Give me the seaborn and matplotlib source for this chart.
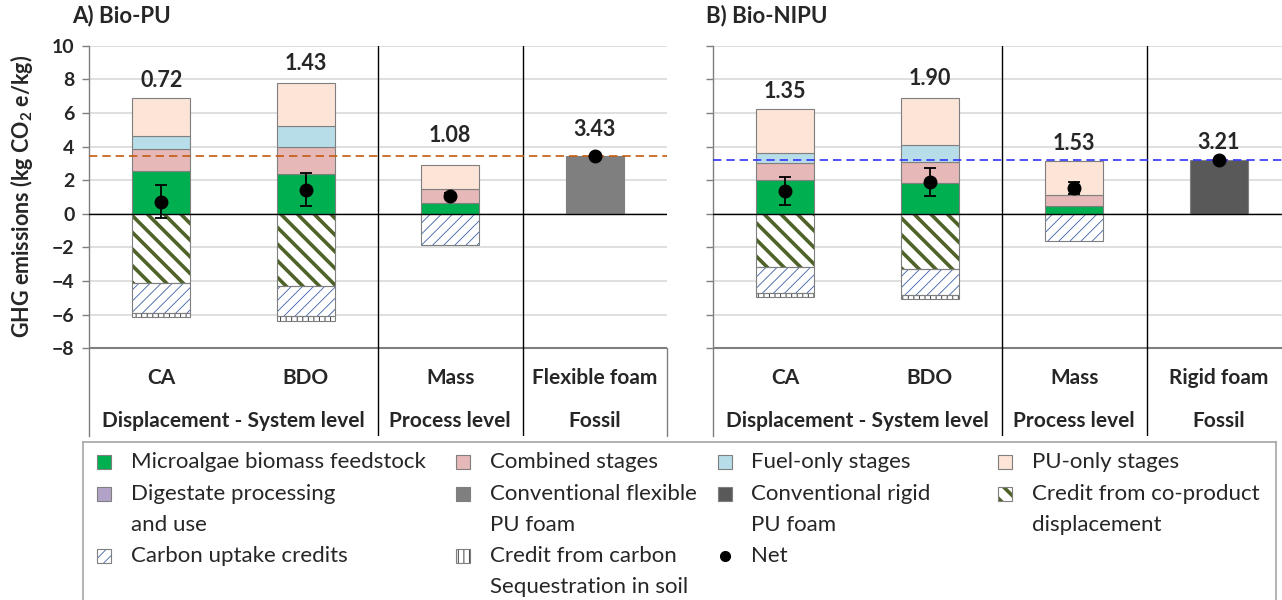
import numpy as np
import pandas as pd
import matplotlib
matplotlib.use("Agg")
import matplotlib.pyplot as plt
from matplotlib.patches import Rectangle
import seaborn as sns

# --- data (kg CO2 e/kg) ---
cats_a = ["CA", "BDO", "Mass", "Flexible foam"]
cats_b = ["CA", "BDO", "Mass", "Rigid foam"]
groups = ["Displacement - System level", "Process level", "Fossil"]

# A) Bio-PU
feedstock_a = [2.54, 2.36, 0.62, 0.0]
combined_a = [1.29, 1.59, 0.83, 0.0]
fuel_a = [0.80, 1.27, 0.0, 0.0]
pu_a = [2.24, 2.54, 1.47, 0.0]
fossil_a = [0.0, 0.0, 0.0, 3.43]
coprod_a = [-4.14, -4.30, 0.0, 0.0]
uptake_a = [-1.79, -1.79, -1.84, 0.0]
soil_a = [-0.24, -0.28, 0.0, 0.0]
net_a = [0.72, 1.43, 1.08, 3.43]
err_a = [1.00, 1.00, 0.15, 0.0]

# B) Bio-NIPU
feedstock_b = [1.99, 1.85, 0.48, 0.0]
combined_b = [1.03, 1.25, 0.65, 0.0]
fuel_b = [0.57, 1.01, 0.0, 0.0]
pu_b = [2.62, 2.78, 2.01, 0.0]
fossil_b = [0.0, 0.0, 0.0, 3.21]
coprod_b = [-3.19, -3.31, 0.0, 0.0]
uptake_b = [-1.51, -1.53, -1.63, 0.0]
soil_b = [-0.24, -0.22, 0.0, 0.0]
net_b = [1.35, 1.90, 1.53, 3.21]
err_b = [0.85, 0.85, 0.35, 0.0]

# --- style ---
sns.set_theme(style="white")
plt.rcParams["font.family"] = ["Lato", "DejaVu Sans"]
plt.rcParams["mathtext.default"] = "regular"

C_FEED = "#00B050"
C_COMB = "#E6B8B7"
C_FUEL = "#B7DEE8"
C_PU = "#FCE4D6"
C_DIG = "#B3A2C7"
C_FLEX = "#7F7F7F"
C_RIGID = "#595959"
C_COPROD = "#4F6228"
C_UPTAKE = "#3A5FA8"
C_SOIL = "#404040"
EDGE = "#7F7F7F"
AXIS = "#7F7F7F"

W, H = 1282, 600
fig = plt.figure(figsize=(W / 100, H / 100), dpi=100)


def px_axes(x0, y0, x1, y1):
    return fig.add_axes([x0 / W, 1 - y1 / H, (x1 - x0) / W, (y1 - y0) / H])


Y_TOP, Y_BOT, PX_UNIT = 45.7, 436, 16.8
YMIN = 10 - (Y_BOT - Y_TOP) / PX_UNIT
CAT_W = 144.5


def stack_bar(ax, cats, values, bottoms, color, hatch=None, hatch_lw=1.0):
    keep = [i for i, v in enumerate(values) if v != 0]
    sub = pd.DataFrame({"cat": [cats[i] for i in keep], "val": [values[i] for i in keep]})
    bot = np.array([bottoms[i] for i in keep])
    common = dict(data=sub, x="cat", y="val", order=cats, bottom=bot, saturation=1,
                  width=0.4, errorbar=None, ax=ax)
    if hatch is None:
        sns.barplot(color=color, edgecolor=EDGE, linewidth=0.8, zorder=2, **common)
        return
    n0 = len(ax.patches)
    with plt.rc_context({"hatch.linewidth": hatch_lw}):
        sns.barplot(color="white", edgecolor=color, linewidth=0, hatch=hatch, zorder=2, **common)
    for p in ax.patches[n0:]:
        if hasattr(p, "set_hatch_linewidth"):
            p.set_hatch_linewidth(hatch_lw)
    sns.barplot(color="white", facecolor="none", edgecolor=EDGE, linewidth=0.8, zorder=2.1, **common)


def panel(ax, cats, feed, comb, fuel, pu, fossil, coprod, uptake, soil, net, err,
          fossil_color, ref_color, label_y, xmax, show_labels):
    feed, comb, fuel, pu = map(np.array, (feed, comb, fuel, pu))
    coprod, uptake = np.array(coprod), np.array(uptake)
    zero = np.zeros(len(cats))
    stack_bar(ax, cats, feed, zero, C_FEED)
    stack_bar(ax, cats, comb, feed, C_COMB)
    stack_bar(ax, cats, fuel, feed + comb, C_FUEL)
    stack_bar(ax, cats, pu, feed + comb + fuel, C_PU)
    stack_bar(ax, cats, fossil, zero, fossil_color)
    stack_bar(ax, cats, coprod, zero, C_COPROD, hatch="\\\\", hatch_lw=2.6)
    stack_bar(ax, cats, uptake, coprod, C_UPTAKE, hatch="///", hatch_lw=0.6)
    stack_bar(ax, cats, soil, coprod + uptake, C_SOIL, hatch="|||", hatch_lw=0.7)

    idx = np.arange(len(cats))
    has_err = [i for i, e in enumerate(err) if e > 0]
    ax.errorbar(idx[has_err], np.array(net)[has_err], yerr=np.array(err)[has_err], fmt="none",
                ecolor="black", elinewidth=1.3, capsize=4.5, capthick=1.3, zorder=5)
    sns.pointplot(x=cats, y=net, order=cats, linestyle="none", markers="o", color="black",
                  markersize=8, errorbar=None, zorder=6, ax=ax)

    for i, (v, yl) in enumerate(zip(net, label_y)):
        ax.text(i, yl, f"{v:.2f}", ha="center", va="center", fontsize=15.5, fontweight="bold")

    ax.axhline(net[-1], color=ref_color, ls=(0, (5, 3)), lw=1.2, zorder=3.5)
    ax.axhline(0, color="black", lw=1, zorder=3)
    ax.axhline(-8, color=AXIS, lw=1.5, zorder=3)
    for xs in (1.5, 2.5):
        ax.axvline(xs, color="black", lw=1, zorder=3)

    ax.set_xlim(-0.5, xmax)
    ax.set_ylim(YMIN, 10)
    ax.set_yticks(range(-8, 11, 2))
    ax.set_xticks([])
    ax.set_xlabel("")
    ax.set_ylabel("")
    ax.grid(axis="y", color="#D9D9D9", lw=1.2)
    ax.grid(axis="x", visible=False)
    ax.set_axisbelow(True)
    for s in ("top", "right", "bottom"):
        ax.spines[s].set_visible(False)
    ax.spines["left"].set_color(AXIS)
    ax.spines["left"].set_linewidth(1)
    ax.tick_params(axis="y", left=True, direction="out", length=5, width=1, color=AXIS,
                   pad=5.5, labelleft=show_labels, labelsize=14)
    for t in ax.get_yticklabels():
        t.set_fontweight("bold")

    for i, c in enumerate(cats):
        ax.text(i, -9.8, c, ha="center", va="center", fontsize=15, fontweight="bold")
    for xc, g in zip((0.5, 2, 3), groups):
        ax.text(xc, -12.35, g, ha="center", va="center", fontsize=15, fontweight="bold")


ax_a = px_axes(89, Y_TOP, 89 + 4 * CAT_W, Y_BOT)
panel(ax_a, cats_a, feedstock_a, combined_a, fuel_a, pu_a, fossil_a, coprod_a, uptake_a, soil_a,
      net_a, err_a, C_FLEX, "#C55A11", [7.95, 8.95, 4.63, 5.04], 3.5, True)
ax_a.plot([3.5, 3.5], [YMIN, -8], color=AXIS, lw=1, clip_on=False)

ax_b = px_axes(713, Y_TOP, W, Y_BOT)
panel(ax_b, cats_b, feedstock_b, combined_b, fuel_b, pu_b, fossil_b, coprod_b, uptake_b, soil_b,
      net_b, err_b, C_RIGID, "#3333FF", [7.26, 8.06, 4.19, 4.23], -0.5 + (W - 713) / CAT_W, False)

fig.text(72 / W, 1 - 16 / H, "A) Bio-PU", ha="left", va="center", fontsize=16, fontweight="bold")
fig.text(706 / W, 1 - 16 / H, "B) Bio-NIPU", ha="left", va="center", fontsize=16, fontweight="bold")
fig.text(22 / W, 1 - 196 / H, "GHG emissions (kg CO$_2$ e/kg)", rotation=90, ha="center",
         va="center", fontsize=15.5, fontweight="bold")

# --- legend (drawn in pixel coordinates) ---
lax = px_axes(82.7, 441.7, 1276, 603)
lax.set_xlim(82.7, 1276)
lax.set_ylim(603, 441.7)
lax.set_xticks([])
lax.set_yticks([])
for s in lax.spines.values():
    s.set_color("#A6A6A6")
    s.set_linewidth(1.2)

cols = [(103.7, 130.7), (463, 490), (725, 751), (1005, 1032)]
rows = [462, 494, 556]
entries = [
    (0, 0, "Microalgae biomass feedstock", dict(fc=C_FEED)),
    (0, 1, "Digestate processing\nand use", dict(fc=C_DIG)),
    (0, 2, "Carbon uptake credits", dict(fc="white", hatch="///", hc=C_UPTAKE, hlw=0.6)),
    (1, 0, "Combined stages", dict(fc=C_COMB)),
    (1, 1, "Conventional flexible\nPU foam", dict(fc=C_FLEX)),
    (1, 2, "Credit from carbon\nSequestration in soil", dict(fc="white", hatch="|||", hc=C_SOIL, hlw=0.7)),
    (2, 0, "Fuel-only stages", dict(fc=C_FUEL)),
    (2, 1, "Conventional rigid\nPU foam", dict(fc=C_RIGID)),
    (2, 2, "Net", dict(dot=True)),
    (3, 0, "PU-only stages", dict(fc=C_PU)),
    (3, 1, "Credit from co-product\ndisplacement", dict(fc="white", hatch="\\\\", hc=C_COPROD, hlw=2.6)),
]
S = 14
for ci, ri, label, sty in entries:
    mx, tx = cols[ci]
    y = rows[ri]
    if sty.get("dot"):
        lax.plot(mx, y, "o", color="black", ms=7)
    elif "hatch" in sty:
        with plt.rc_context({"hatch.linewidth": sty["hlw"]}):
            r = Rectangle((mx - S / 2, y - S / 2), S, S, facecolor="white", edgecolor=sty["hc"],
                          lw=0, hatch=sty["hatch"])
        if hasattr(r, "set_hatch_linewidth"):
            r.set_hatch_linewidth(sty["hlw"])
        lax.add_patch(r)
        lax.add_patch(Rectangle((mx - S / 2, y - S / 2), S, S, facecolor="none", edgecolor=EDGE, lw=0.8))
    else:
        lax.add_patch(Rectangle((mx - S / 2, y - S / 2), S, S, facecolor=sty["fc"], edgecolor=EDGE, lw=0.8))
    for k, line in enumerate(label.split("\n")):
        lax.text(tx, y + 31 * k, line, ha="left", va="center", fontsize=16)

fig.savefig("out.png", dpi=100)
